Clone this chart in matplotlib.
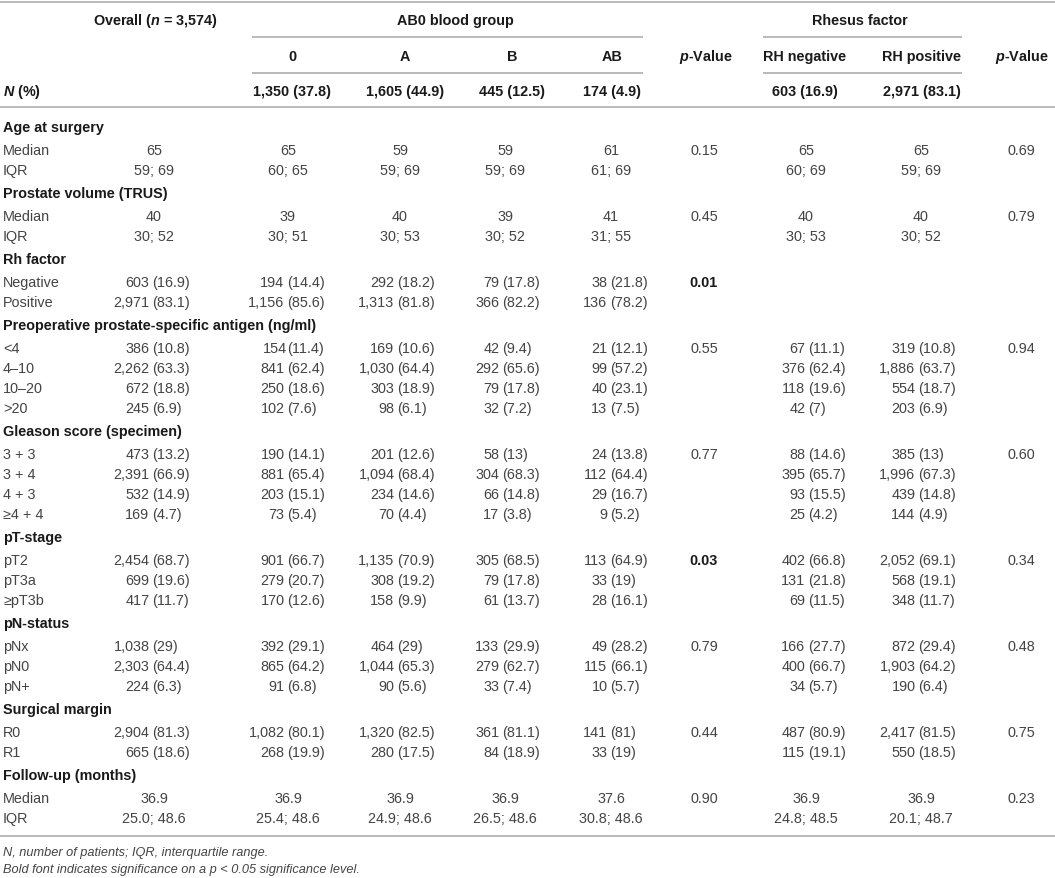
import matplotlib as mpl
mpl.rcParams['font.family'] = ['Liberation Sans', 'DejaVu Sans']
mpl.rcParams['mathtext.fontset'] = 'custom'
mpl.rcParams['mathtext.it'] = 'Liberation Sans:bold:italic'
mpl.rcParams['mathtext.rm'] = 'Liberation Sans:bold'
mpl.rcParams['mathtext.bf'] = 'Liberation Sans:bold'

import matplotlib.pyplot as plt

# ---- table content ----
col_heads = ["0", "A", "B", "AB", "$\\it{p}$-Value", "RH negative", "RH positive", "$\\it{p}$-Value"]
n_row = ["1,350 (37.8)", "1,605 (44.9)", "445 (12.5)", "174 (4.9)", "", "603 (16.9)", "2,971 (83.1)", ""]

sections = ["Age at surgery", "Prostate volume (TRUS)", "Rh factor",
            "Preoperative prostate-specific antigen (ng/ml)", "Gleason score (specimen)",
            "pT-stage", "pN-status", "Surgical margin", "Follow-up (months)"]

labels = [
    ["Median", "IQR"],
    ["Median", "IQR"],
    ["Negative", "Positive"],
    ["<4", "4\u201310", "10\u201320", ">20"],
    ["3 + 3", "3 + 4", "4 + 3", "\u22654 + 4"],
    ["pT2", "pT3a", "\u2265pT3b"],
    ["pNx", "pN0", "pN+"],
    ["R0", "R1"],
    ["Median", "IQR"],
]

# columns: overall, 0, A, B, AB, p, RH neg, RH pos, p
values = [
    [["65", "65", "59", "59", "61", "0.15", "65", "65", "0.69"],
     ["59; 69", "60; 65", "59; 69", "59; 69", "61; 69", "", "60; 69", "59; 69", ""]],
    [["40", "39", "40", "39", "41", "0.45", "40", "40", "0.79"],
     ["30; 52", "30; 51", "30; 53", "30; 52", "31; 55", "", "30; 53", "30; 52", ""]],
    [["603 (16.9)", "194 (14.4)", "292 (18.2)", "79 (17.8)", "38 (21.8)", "0.01", "", "", ""],
     ["2,971 (83.1)", "1,156 (85.6)", "1,313 (81.8)", "366 (82.2)", "136 (78.2)", "", "", "", ""]],
    [["386 (10.8)", "154(11.4)", "169 (10.6)", "42 (9.4)", "21 (12.1)", "0.55", "67 (11.1)", "319 (10.8)", "0.94"],
     ["2,262 (63.3)", "841 (62.4)", "1,030 (64.4)", "292 (65.6)", "99 (57.2)", "", "376 (62.4)", "1,886 (63.7)", ""],
     ["672 (18.8)", "250 (18.6)", "303 (18.9)", "79 (17.8)", "40 (23.1)", "", "118 (19.6)", "554 (18.7)", ""],
     ["245 (6.9)", "102 (7.6)", "98 (6.1)", "32 (7.2)", "13 (7.5)", "", "42 (7)", "203 (6.9)", ""]],
    [["473 (13.2)", "190 (14.1)", "201 (12.6)", "58 (13)", "24 (13.8)", "0.77", "88 (14.6)", "385 (13)", "0.60"],
     ["2,391 (66.9)", "881 (65.4)", "1,094 (68.4)", "304 (68.3)", "112 (64.4)", "", "395 (65.7)", "1,996 (67.3)", ""],
     ["532 (14.9)", "203 (15.1)", "234 (14.6)", "66 (14.8)", "29 (16.7)", "", "93 (15.5)", "439 (14.8)", ""],
     ["169 (4.7)", "73 (5.4)", "70 (4.4)", "17 (3.8)", "9 (5.2)", "", "25 (4.2)", "144 (4.9)", ""]],
    [["2,454 (68.7)", "901 (66.7)", "1,135 (70.9)", "305 (68.5)", "113 (64.9)", "0.03", "402 (66.8)", "2,052 (69.1)", "0.34"],
     ["699 (19.6)", "279 (20.7)", "308 (19.2)", "79 (17.8)", "33 (19)", "", "131 (21.8)", "568 (19.1)", ""],
     ["417 (11.7)", "170 (12.6)", "158 (9.9)", "61 (13.7)", "28 (16.1)", "", "69 (11.5)", "348 (11.7)", ""]],
    [["1,038 (29)", "392 (29.1)", "464 (29)", "133 (29.9)", "49 (28.2)", "0.79", "166 (27.7)", "872 (29.4)", "0.48"],
     ["2,303 (64.4)", "865 (64.2)", "1,044 (65.3)", "279 (62.7)", "115 (66.1)", "", "400 (66.7)", "1,903 (64.2)", ""],
     ["224 (6.3)", "91 (6.8)", "90 (5.6)", "33 (7.4)", "10 (5.7)", "", "34 (5.7)", "190 (6.4)", ""]],
    [["2,904 (81.3)", "1,082 (80.1)", "1,320 (82.5)", "361 (81.1)", "141 (81)", "0.44", "487 (80.9)", "2,417 (81.5)", "0.75"],
     ["665 (18.6)", "268 (19.9)", "280 (17.5)", "84 (18.9)", "33 (19)", "", "115 (19.1)", "550 (18.5)", ""]],
    [["36.9", "36.9", "36.9", "36.9", "37.6", "0.90", "36.9", "36.9", "0.23"],
     ["25.0; 48.6", "25.4; 48.6", "24.9; 48.6", "26.5; 48.6", "30.8; 48.6", "", "24.8; 48.5", "20.1; 48.7", ""]],
]

significant = ["0.01", "0.03"]

footnotes = ["N, number of patients; IQR, interquartile range.",
             "Bold font indicates significance on a p < 0.05 significance level."]

# ---- layout (pixels) ----
W, H = 1055, 879
fs = 10.4
body = '#444444'
dark = '#1a1a1a'
line_c = '#b4b4b4'

x_label = 3
x_center = [154, 288, 400, 505, 611, 704, 806, 921, 1021]
x_paren = [152, 287, 397, 502, 610, None, 808, 918, None]
x_head = [292, 405, 512, 612, 706, 805, 922, 1022]

fig = plt.figure(figsize=(W / 100, H / 100), dpi=100)
ax = fig.add_axes([0, 0, 1, 1])
ax.set_xlim(0, W)
ax.set_ylim(H, 0)
ax.axis('off')

def hline(y, x0, x1):
    ax.plot([x0, x1], [y, y], color=line_c, lw=1.3, solid_capstyle='butt')

# header
hline(3, 0, W)
ax.text(155, 21, "Overall ($\\it{n}$ = 3,574)", ha='center', va='center', fontsize=fs,
        fontweight='bold', color=dark)
ax.text(455, 21, "AB0 blood group", ha='center', va='center', fontsize=fs, fontweight='bold', color=dark)
ax.text(860, 21, "Rhesus factor", ha='center', va='center', fontsize=fs, fontweight='bold', color=dark)
hline(38, 252, 643)
hline(38, 763, 962)
for xh, t in zip(x_head, col_heads):
    ax.text(xh, 57, t, ha='center', va='center', fontsize=fs, fontweight='bold', color=dark)
hline(74, 252, 643)
hline(74, 763, 962)
ax.text(x_label, 92, "$\\it{N}$ (%)", ha='left', va='center', fontsize=fs, fontweight='bold', color=dark)
for xh, t in zip(x_head, n_row):
    if t:
        ax.text(xh, 92, t, ha='center', va='center', fontsize=fs, fontweight='bold', color=dark)
hline(108, 0, W)

def cell(x_c, x_p, y, t):
    if not t:
        return
    if t in significant:
        ax.text(x_c, y, t, ha='center', va='center', fontsize=fs, fontweight='bold', color=dark)
        return
    if '(' in t and x_p is not None:
        cnt, pct = t.split('(')
        gap = 2.6 if cnt.endswith(' ') else 0.0
        ax.text(x_p - gap, y, cnt.strip(), ha='right', va='center', fontsize=fs, color=body)
        ax.text(x_p, y, '(' + pct, ha='left', va='center', fontsize=fs, color=body)
    else:
        ax.text(x_c, y, t, ha='center', va='center', fontsize=fs, color=body)

y = 128
for name, labs, vals in zip(sections, labels, values):
    ax.text(x_label, y, name, ha='left', va='center', fontsize=fs, fontweight='bold', color=dark)
    y += 23
    for i, (lab, row) in enumerate(zip(labs, vals)):
        if i > 0:
            y += 20
        ax.text(x_label, y, lab, ha='left', va='center', fontsize=fs, color=body)
        for xc, xp, t in zip(x_center, x_paren, row):
            cell(xc, xp, y, t)
    y += 23

hline(837, 0, W)
ax.text(x_label, 853, footnotes[0], ha='left', va='center', fontsize=9.2, style='italic', color=body)
ax.text(x_label, 870, footnotes[1], ha='left', va='center', fontsize=9.2, style='italic', color=body)

plt.savefig("out.png", dpi=100)
plt.close()
